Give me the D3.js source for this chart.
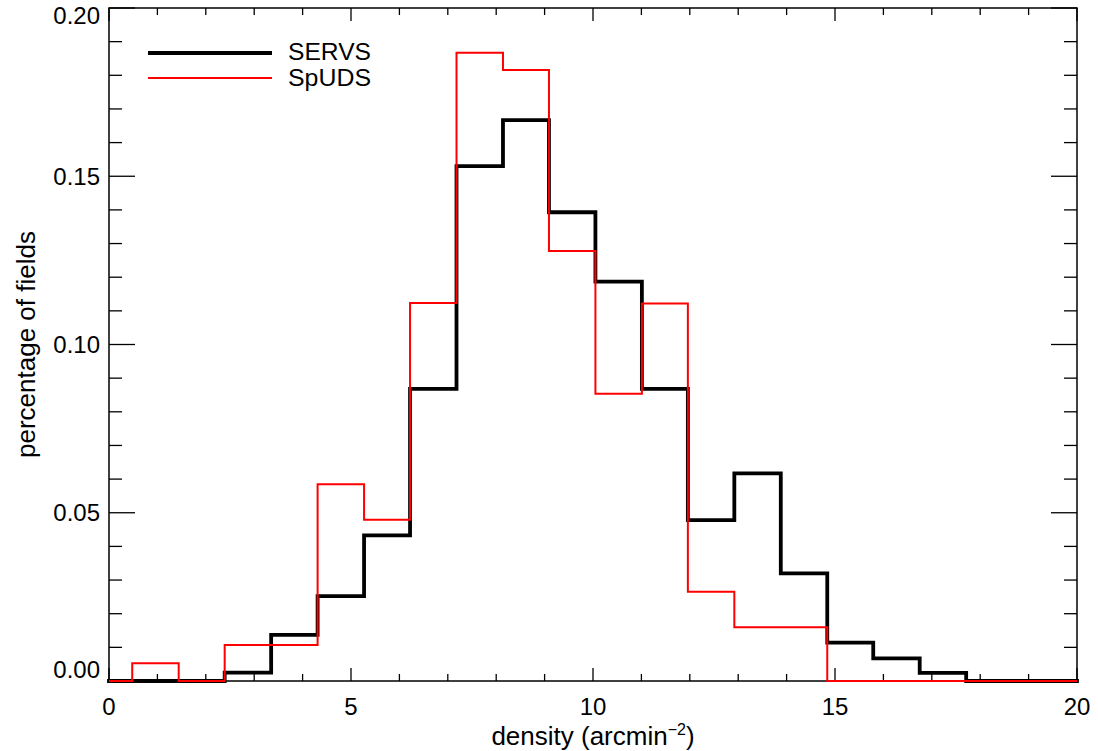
<!DOCTYPE html>
<html><head><meta charset="utf-8">
<script src="https://cdn.jsdelivr.net/npm/d3@7"></script>
<style>html,body{margin:0;padding:0;background:#fff;}svg{display:block;font-family:"Liberation Sans",Arial,sans-serif;}</style>
</head><body>
<svg id="c" width="1098" height="751"></svg>
<script>
const binEdges = [0,0.48,1.44,2.39,3.35,4.31,5.27,6.22,7.18,8.14,9.09,10.05,11.01,11.96,12.92,13.88,14.84,15.79,16.75,17.71,20];
const servs = [0,0,0,0.0025,0.0137,0.0252,0.0433,0.0868,0.153,0.1667,0.1393,0.1187,0.0868,0.0478,0.0617,0.032,0.0114,0.0067,0.0024,0];
const spuds = [0,0.0053,0,0.0107,0.0107,0.0585,0.0479,0.1123,0.1867,0.1816,0.1278,0.0854,0.1122,0.0265,0.016,0.016,0,0,0,0];
const xMajor = [0,5,10,15,20];
const yMajor = [0,0.05,0.10,0.15,0.20];
const seriesNames = ["SERVS","SpUDS"];

const svg = d3.select("#c");
const L=109,R=1077,T=8,B=681;
const x = d3.scaleLinear().domain([0,20]).range([L,R]);
const y = d3.scaleLinear().domain([0,0.2]).range([B,T]);
const fsTick = 24, fsTitle = 26, fsLeg = 24.5;

// ticks
const g = svg.append("g");
const xMinor = d3.range(0,21,1);
const yMinor = d3.range(0,0.2001,0.01);
function tick(x1,y1,x2,y2){g.append("line").attr("x1",x1).attr("y1",y1).attr("x2",x2).attr("y2",y2).attr("stroke","#000").attr("stroke-width",1.3);}
xMinor.forEach(v=>{const len = (v%5===0)?13:7; tick(x(v),B,x(v),B-len); tick(x(v),T,x(v),T+len);});
yMinor.forEach(v=>{const k=Math.round(v*100); const len=(k%5===0)?26:13; tick(L,y(v),L+len,y(v)); tick(R,y(v),R-len,y(v));});

// frame
svg.append("rect").attr("x",L).attr("y",T).attr("width",R-L).attr("height",B-T).attr("fill","none").attr("stroke","#000").attr("stroke-width",1.5);

// tick labels
xMajor.forEach(v=>svg.append("text").attr("x",x(v)).attr("y",715).attr("text-anchor","middle").attr("font-size",fsTick).text(v));
yMajor.forEach(v=>{
  let yy = y(v)+8.5;
  if (v===0) yy -= 12;
  if (v===0.20) yy += 7;
  svg.append("text").attr("x",L-9).attr("y",yy).attr("text-anchor","end").attr("font-size",fsTick).text(v.toFixed(2));
});

// axis titles
const xt = svg.append("text").attr("x",(L+R)/2).attr("y",745).attr("text-anchor","middle").attr("font-size",fsTitle);
xt.append("tspan").text("density (arcmin");
xt.append("tspan").attr("dy",-10).attr("font-size",16).text("\u22122");
xt.append("tspan").attr("dy",10).text(")");
svg.append("text").attr("transform",`translate(35,${(T+B)/2}) rotate(-90)`).attr("text-anchor","middle").attr("font-size",fsTitle).text("percentage of fields");

// histograms
const line = d3.line().x(d=>x(d[0])).y(d=>y(d[1])).curve(d3.curveStepAfter);
function pts(vals){const p=vals.map((v,i)=>[binEdges[i],v]); p.push([binEdges[binEdges.length-1],vals[vals.length-1]]); return p;}
svg.append("path").attr("d",line(pts(servs))).attr("fill","none").attr("stroke","#000").attr("stroke-width",3.8).attr("stroke-linejoin","miter").attr("stroke-linecap","square");
svg.append("path").attr("d",line(pts(spuds))).attr("fill","none").attr("stroke","#ff0000").attr("stroke-width",2).attr("stroke-linejoin","miter");

// legend
const leg=[{n:seriesNames[0],c:"#000",w:4,yy:53,ty:60},{n:seriesNames[1],c:"#ff0000",w:2,yy:78,ty:86}];
leg.forEach(d=>{
  svg.append("line").attr("x1",148).attr("x2",272).attr("y1",d.yy).attr("y2",d.yy).attr("stroke",d.c).attr("stroke-width",d.w);
  svg.append("text").attr("x",288).attr("y",d.ty).attr("font-size",fsLeg).attr("textLength",d.n.length*16.6).attr("lengthAdjust","spacingAndGlyphs").text(d.n);
});
</script>
</body></html>
